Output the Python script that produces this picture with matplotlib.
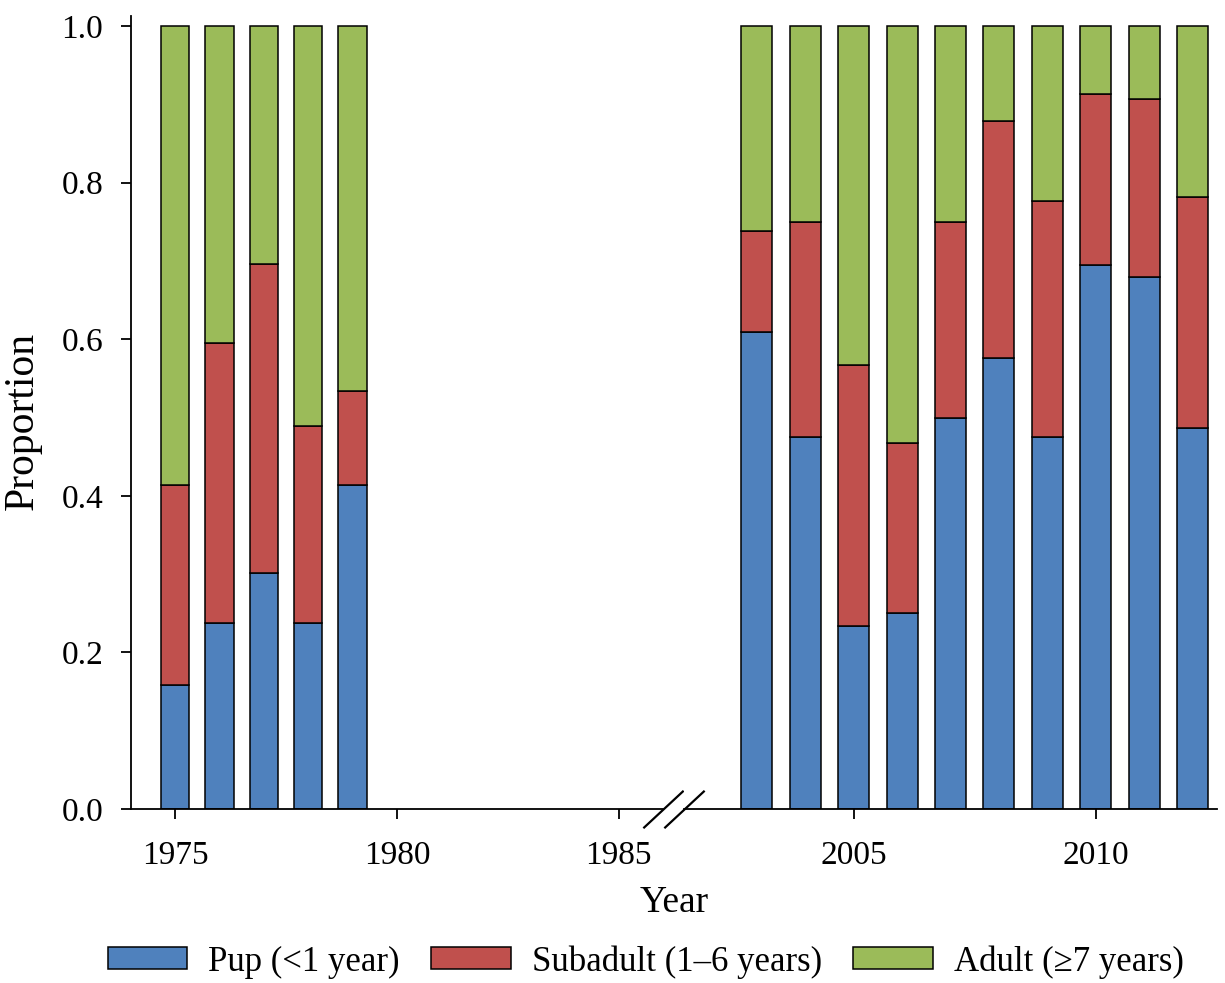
import matplotlib
matplotlib.use('Agg')
import matplotlib.pyplot as plt
import numpy as np

plt.rcParams['font.family'] = ['Liberation Serif', 'DejaVu Serif']

# proportions per age class
years_early = [1975, 1976, 1977, 1978, 1979]
pup_early = [0.158, 0.238, 0.301, 0.238, 0.414]
sub_early = [0.256, 0.357, 0.395, 0.251, 0.120]
adult_early = [0.586, 0.405, 0.304, 0.511, 0.466]

years_late = [2003, 2004, 2005, 2006, 2007, 2008, 2009, 2010, 2011, 2012]
pup_late = [0.609, 0.475, 0.234, 0.250, 0.500, 0.576, 0.475, 0.695, 0.680, 0.487]
sub_late = [0.129, 0.275, 0.333, 0.218, 0.250, 0.303, 0.301, 0.218, 0.227, 0.295]
adult_late = [0.262, 0.250, 0.433, 0.532, 0.250, 0.121, 0.224, 0.087, 0.093, 0.218]

labels = ['Pup (<1 year)', 'Subadult (1\u20136 years)', 'Adult (\u22657 years)']
colors = ['#4F81BD', '#C0504D', '#9BBB59']

ticks_early = [1975, 1980, 1985]
ticks_late = [2005, 2010]

fig = plt.figure(figsize=(12.25, 9.83), dpi=100)
axL = fig.add_axes([0.1069, 0.1770, 0.4343, 0.8067])
axR = fig.add_axes([0.5584, 0.1770, 0.4351, 0.8067])

def stack(ax, yrs, parts):
	bottom = np.zeros(len(yrs))
	for vals, col, lab in zip(parts, colors, labels):
		ax.bar(yrs, vals, width=0.64, bottom=bottom, color=col,
			edgecolor='black', linewidth=1.1, label=lab)
		bottom += np.array(vals)

stack(axL, years_early, [pup_early, sub_early, adult_early])
stack(axR, years_late, [pup_late, sub_late, adult_late])

axL.set_xlim(1974.0, 1986.0)
axR.set_xlim(2001.5, 2012.5)
for ax in (axL, axR):
	ax.set_ylim(0, 1.0128)
	ax.spines['top'].set_visible(False)
	ax.spines['right'].set_visible(False)
	ax.spines['bottom'].set_linewidth(1.3)
	ax.tick_params(axis='x', direction='out', length=7, width=1.3, labelsize=24, pad=16)
axR.spines['left'].set_visible(False)
axR.tick_params(axis='y', left=False, labelleft=False)
axL.spines['left'].set_linewidth(1.3)
axL.tick_params(axis='y', direction='out', length=7, width=1.3, labelsize=24, pad=13)

axL.set_xticks(ticks_early)
axR.set_xticks(ticks_late)
axL.set_yticks([0, 0.2, 0.4, 0.6, 0.8, 1.0])
axL.set_yticklabels(['0.0', '0.2', '0.4', '0.6', '0.8', '1.0'])

# break marks on the x axis
brk = dict(marker=[(-1, -0.93), (1, 0.93)], markersize=29, linestyle='none',
	color='k', mec='k', mew=1.6, clip_on=False)
axL.plot([1], [0], transform=axL.transAxes, **brk)
axR.plot([0], [0], transform=axR.transAxes, **brk)

fig.text(674 / 1225, 0.0722, 'Year', fontsize=27, ha='center', va='baseline')
fig.text(23 / 1225, 0.5717, 'Proportion', fontsize=30, rotation=90, ha='center', va='center')

handles, labs = axL.get_legend_handles_labels()
fig.legend(handles, labs, loc='center', bbox_to_anchor=(0.527, 0.0214), ncol=3,
	frameon=False, fontsize=25, handlelength=2.3, handleheight=0.6,
	handletextpad=0.6, columnspacing=0.9, borderpad=0.2)

plt.savefig('out.png', dpi=100)
